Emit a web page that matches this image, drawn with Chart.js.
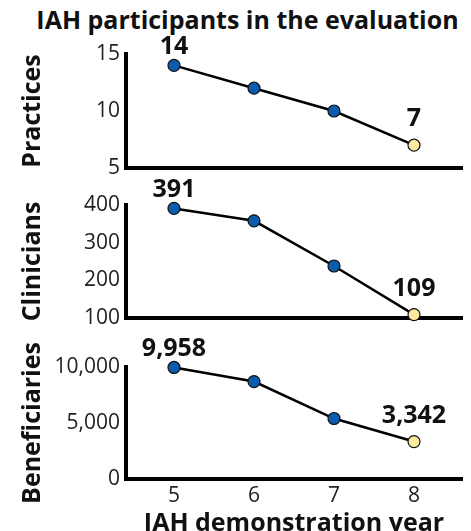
<!DOCTYPE html>
<html>
<head>
<meta charset="utf-8">
<script src="https://cdn.jsdelivr.net/npm/chart.js@4.4.1/dist/chart.umd.min.js"></script>
<style>
  body { margin: 0; background: #fff; overflow: hidden; }
  #wrap { position: relative; width: 471px; height: 531px; overflow: hidden; }
  #title { position: absolute; left: 12px; top: 2px; width: 471px; text-align: center;
           font: bold 25px "Open Sans", sans-serif; color: #111; white-space: nowrap; }
  .panel { position: absolute; left: 0; width: 471px; }
</style>
</head>
<body>
<div id="wrap">
  <div id="title">IAH participants in the evaluation</div>
  <div class="panel" style="top:34px;height:154px"><canvas id="c1"></canvas></div>
  <div class="panel" style="top:175px;height:163px"><canvas id="c2"></canvas></div>
  <div class="panel" style="top:330px;height:209px"><canvas id="c3"></canvas></div>
</div>
<script>
// DATA
const years = [5, 6, 7, 8];
const practices = [14, 12, 10, 7];
const clinicians = [391, 358, 238, 109];
const beneficiaries = [9958, 8700, 5400, 3342];
const practicesLabels = ['14', '', '', '7'];
const cliniciansLabels = ['391', '', '', '109'];
const beneficiariesLabels = ['9,958', '', '', '3,342'];

const BLUE = '#0B5CAD';
const YELLOW = '#FDE9A0';
const FONT = '"Open Sans", sans-serif';

// end labels above the first and last point
const endLabels = {
    id: 'endLabels',
    afterDatasetsDraw(chart, args, opts) {
        const ctx = chart.ctx;
        const meta = chart.getDatasetMeta(0);
        ctx.save();
        ctx.font = 'bold 25px ' + FONT;
        ctx.fillStyle = '#111';
        ctx.textAlign = 'center';
        ctx.textBaseline = 'middle';
        opts.labels.forEach((t, i) => {
            if (!t) return;
            const p = meta.data[i];
            const off = i === 0 ? 19 : 26;
            ctx.fillText(t, p.x, p.y - off);
        });
        ctx.restore();
    }
};

function makePanel(id, values, labels, yTitle, ymin, ymax, step, padTop, bottom) {
    const pts = values.map((v, i) => ({ x: years[i], y: v }));
    return new Chart(document.getElementById(id), {
        type: 'line',
        data: {
            datasets: [{
                data: pts,
                borderColor: '#000',
                borderWidth: 2.5,
                pointRadius: 6,
                pointBorderWidth: 1.2,
                pointBorderColor: '#111',
                pointBackgroundColor: values.map((v, i) => i === values.length - 1 ? YELLOW : BLUE),
                tension: 0,
                clip: false
            }]
        },
        plugins: [endLabels],
        options: {
            responsive: true,
            maintainAspectRatio: false,
            animation: false,
            layout: { padding: { top: padTop, right: 9, bottom: 0, left: 0 } },
            plugins: {
                legend: { display: false },
                tooltip: { enabled: false },
                endLabels: { labels: labels }
            },
            scales: {
                x: {
                    type: 'linear',
                    min: 4.4,
                    max: 8.6,
                    grid: { display: false, drawTicks: false },
                    border: { display: true, color: '#000', width: 4 },
                    afterBuildTicks: s => { s.ticks = years.map(v => ({ value: v })); },
                    afterFit: s => { s.height = bottom ? 60 : 20; },
                    ticks: {
                        display: bottom,
                        padding: 4,
                        color: '#222',
                        font: { family: FONT, size: 21 }
                    },
                    title: {
                        display: bottom,
                        text: 'IAH demonstration year',
                        color: '#111',
                        padding: 0,
                        font: { family: FONT, size: 25, weight: 'bold' }
                    }
                },
                y: {
                    min: ymin,
                    max: ymax,
                    grid: { display: false, drawTicks: false },
                    border: { display: true, color: '#000', width: 4 },
                    afterFit: s => { s.width = 126; },
                    ticks: {
                        stepSize: step,
                        padding: 6,
                        color: '#222',
                        font: { family: FONT, size: 21 }
                    },
                    title: {
                        display: true,
                        text: yTitle,
                        color: '#111',
                        padding: { top: 18, bottom: 0 },
                        font: { family: FONT, size: 25, weight: 'bold' }
                    }
                }
            }
        }
    });
}

makePanel('c1', practices, practicesLabels, 'Practices', 5, 15, 5, 20, false);
makePanel('c2', clinicians, cliniciansLabels, 'Clinicians', 100, 400, 100, 30, false);
makePanel('c3', beneficiaries, beneficiariesLabels, 'Beneficiaries', 0, 10000, 5000, 37, true);
</script>
</body>
</html>
